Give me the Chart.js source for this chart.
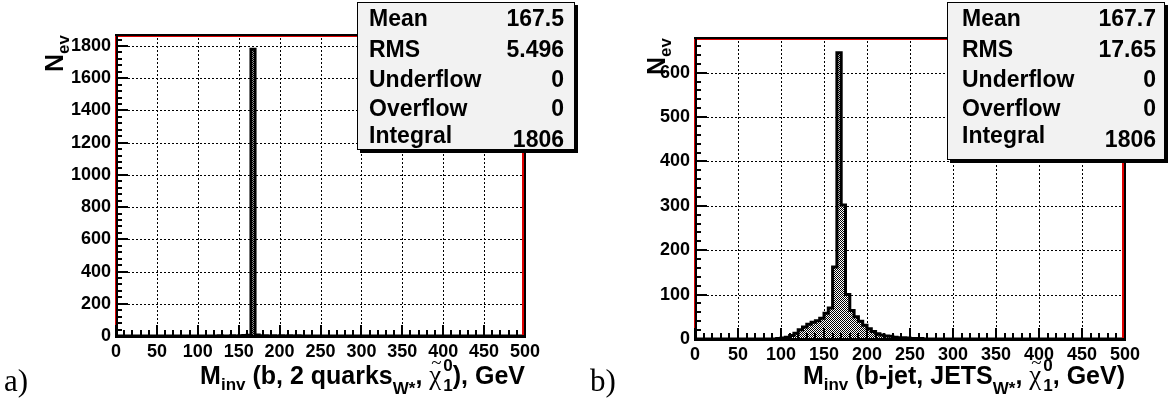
<!DOCTYPE html>
<html><head><meta charset="utf-8">
<script src="https://cdn.jsdelivr.net/npm/chart.js@4.4.0/dist/chart.umd.min.js"></script>
<style>
html,body{margin:0;padding:0;background:#fff;width:1172px;height:405px;overflow:hidden}
canvas{position:absolute;top:0}
#ca{left:0}
#cb{left:586px}
</style></head><body>
<canvas id="ca" width="586" height="405"></canvas>
<canvas id="cb" width="586" height="405"></canvas>
<script>
// ---------------- data ----------------
const binWidthGeV = 5;            // histogram bin width
const xMin = 0, xMax = 500;       // M_inv range, GeV
const xTickStep = 50, xMinorStep = 10;

// a) M_inv(b, 2 quarks_W*, chi_1^0): 100 bins of 5 GeV
const countsA = [
  0,0,0,0,0,0,0,0,0,0,
  0,0,0,0,0,0,0,0,0,0,
  0,0,0,0,0,1,0,0,2,0,
  2,3,5,1780,6,2,1,0,1,0,
  1,0,1,0,1,0,0,0,0,0,
  0,0,0,0,0,0,0,0,0,0,
  0,0,0,0,0,0,0,0,0,0,
  0,0,0,0,0,0,0,0,0,0,
  0,0,0,0,0,0,0,0,0,0,
  0,0,0,0,0,0,0,0,0,0
];
// b) M_inv(b-jet, JETS_W*, chi_1^0): 100 bins of 5 GeV
const countsB = [
  0,0,0,0,0,0,0,0,0,0,
  0,0,0,0,0,0,0,0,0,1,
  2,4,8,13,21,27,33,38,41,47,
  58,70,162,645,302,100,64,50,40,31,
  23,17,12,9,7,6,4,3,3,2,
  1,1,1,0,0,0,0,0,0,0,
  0,0,0,0,0,0,0,0,0,0,
  0,0,0,0,0,0,0,0,0,0,
  0,0,0,0,0,0,0,0,0,0,
  0,0,0,0,0,0,0,0,0,0
];
const yMaxA = 1868, yStepA = 200, yMinorA = 40;
const yMaxB = 678,  yStepB = 100, yMinorB = 20;

const statLabels = ['Mean', 'RMS', 'Underflow', 'Overflow', 'Integral'];
const statsA = ['167.5', '5.496', '0', '0', '1806'];
const statsB = ['167.7', '17.65', '0', '0', '1806'];

// ---------------- drawing helpers ----------------
const SANS = '"Liberation Sans", Arial, sans-serif';
const SERIF = '"Liberation Serif", "DejaVu Serif", serif';
const BT = 'bold 25px ' + SANS;
const BS = 'bold 17px ' + SANS;

function segWidth(ctx, s) {
  if (s.chi) {
    ctx.font = s.f; const w1 = ctx.measureText('χ').width;
    ctx.font = s.sf; const w2 = Math.max(ctx.measureText(s.sup).width, ctx.measureText(s.sub).width);
    return w1 + 2 + w2;
  }
  ctx.font = s.f; return ctx.measureText(s.t).width;
}
function drawRich(ctx, segs, x, y) {
  ctx.textBaseline = 'alphabetic'; ctx.textAlign = 'left'; ctx.fillStyle = '#000';
  segs.forEach(s => {
    if (s.chi) {
      ctx.font = s.f; const w1 = ctx.measureText('χ').width;
      ctx.fillText('χ', x, y);
      ctx.font = s.tf; const tw = ctx.measureText('~').width;
      ctx.fillText('~', x + (w1 - tw) / 2 + 1, y - 15);
      ctx.font = s.sf;
      ctx.fillText(s.sup, x + w1 + 2, y - 13);
      ctx.fillText(s.sub, x + w1 + 2, y + 7);
      x += segWidth(ctx, s);
    } else {
      ctx.font = s.f; ctx.fillText(s.t, x, y + (s.dy || 0));
      x += ctx.measureText(s.t).width;
    }
  });
}
function richTotal(ctx, segs) { return segs.reduce((a, s) => a + segWidth(ctx, s), 0); }

const CHI = { chi: true, f: '27px ' + SERIF, tf: '19px ' + SERIF, sf: BS, sup: '0', sub: '1' };
const titleA = [
  { t: 'M', f: BT }, { t: 'inv', f: BS, dy: 6 }, { t: ' (b, 2 quarks', f: BT },
  { t: 'W*', f: BS, dy: 10 }, { t: ', ', f: BT }, CHI, { t: '), GeV', f: BT }
];
const titleB = [
  { t: 'M', f: BT }, { t: 'inv', f: BS, dy: 6 }, { t: ' (b-jet, JETS', f: BT },
  { t: 'W*', f: BS, dy: 10 }, { t: ', ', f: BT }, CHI, { t: ', GeV)', f: BT }
];
const yTitle = [{ t: 'N', f: BT }, { t: 'ev', f: BS, dy: 6 }];

function makePattern(ctx) {
  const c = document.createElement('canvas'); c.width = 2; c.height = 2;
  const g = c.getContext('2d');
  g.fillStyle = '#fff'; g.fillRect(0, 0, 2, 2);
  g.fillStyle = '#000'; g.fillRect(0, 0, 1, 1); g.fillRect(1, 1, 1, 1);
  return ctx.createPattern(c, 'repeat');
}

function rootPlugin(cfg) {
  return {
    id: 'root_' + cfg.id,
    beforeDatasetsDraw(chart) {
      const { ctx, chartArea: a, scales: { x, y } } = chart;
      ctx.save();
      ctx.strokeStyle = '#000'; ctx.lineWidth = 1; ctx.setLineDash([2, 2]);
      x.ticks.forEach(t => {
        const px = Math.round(x.getPixelForValue(t.value)) + 0.5;
        ctx.beginPath(); ctx.moveTo(px, a.bottom); ctx.lineTo(px, a.top); ctx.stroke();
      });
      y.ticks.forEach(t => {
        const py = Math.round(y.getPixelForValue(t.value)) + 0.5;
        ctx.beginPath(); ctx.moveTo(a.left, py); ctx.lineTo(a.right, py); ctx.stroke();
      });
      ctx.restore();
    },
    afterDatasetsDraw(chart) {
      const { ctx, chartArea: a, scales: { x, y } } = chart;
      const L = Math.round(a.left), R = Math.round(a.right), T = Math.round(a.top), B = Math.round(a.bottom);
      ctx.save();
      // black frame
      ctx.fillStyle = '#000';
      ctx.fillRect(L - 1, T - 1, R - L + 2, 2);   // top
      ctx.fillRect(R - 1, T - 1, 2, B - T + 2);   // right
      ctx.fillRect(L, T - 1, 2, B - T + 2);       // left axis
      ctx.fillRect(L - 1, B - 1, R - L + 2, 3);   // bottom axis
      // red frame line
      ctx.fillStyle = '#e00000';
      ctx.fillRect(L - 1, T + 1, 1, B - T - 2);   // left (outside)
      ctx.fillRect(R - 3, T + 1, 2, B - T - 2);   // right (inside)
      ctx.fillRect(L + 2, T + 1, R - L - 4, 1);   // top (inside)
      // ticks
      ctx.fillStyle = '#000';
      for (let v = xMin; v <= xMax; v += xMinorStep) {
        const px = Math.round(x.getPixelForValue(v));
        const len = (v % xTickStep === 0) ? 11 : 6;
        ctx.fillRect(px - 1, B - len, 2, len);
      }
      for (let v = 0; v <= cfg.yMax; v += cfg.yMinor) {
        const py = Math.round(y.getPixelForValue(v));
        const len = (v % cfg.yStep === 0) ? 12 : 6;
        ctx.fillRect(L, py - 1, len, 2);
      }
      ctx.restore();
    },
    afterDraw(chart) {
      const { ctx, chartArea: a } = chart;
      ctx.save();
      // stats box
      const b = cfg.box, w = b.x1 - b.x0, h = b.y1 - b.y0;
      ctx.fillStyle = '#000'; ctx.fillRect(b.x0 + 3, b.y0 + 3, w, h);
      ctx.fillStyle = '#f2f2f2'; ctx.fillRect(b.x0, b.y0, w, h);
      ctx.strokeStyle = '#000'; ctx.lineWidth = 1; ctx.strokeRect(b.x0 + 0.5, b.y0 + 0.5, w - 1, h - 1);
      ctx.font = 'bold 23px ' + SANS; ctx.fillStyle = '#000'; ctx.textBaseline = 'alphabetic';
      const rows = [26, 57, 87, 116, 143];
      statLabels.forEach((lab, i) => {
        ctx.textAlign = 'left'; ctx.fillText(lab, b.x0 + cfg.padL, rows[i]);
        ctx.textAlign = 'right'; ctx.fillText(cfg.stats[i], b.x1 - cfg.padR, rows[i] + (i === 4 ? 4 : 0));
      });
      // x title (right aligned to axis end)
      const tw = richTotal(ctx, cfg.title);
      drawRich(ctx, cfg.title, a.right - tw, 384);
      // y title, rotated, right aligned to axis top
      const yw = richTotal(ctx, yTitle);
      ctx.translate(cfg.yTitleX, a.top);
      ctx.rotate(-Math.PI / 2);
      drawRich(ctx, yTitle, -yw, 0);
      ctx.setTransform(1, 0, 0, 1, 0, 0);
      // panel label
      ctx.font = '31px ' + SERIF; ctx.textAlign = 'left'; ctx.fillStyle = '#000';
      ctx.fillText(cfg.panel, 4, 391);
      ctx.restore();
    }
  };
}

function buildChart(cfg) {
  const canvas = document.getElementById(cfg.id);
  const ctx = canvas.getContext('2d');
  const pts = cfg.counts.map((v, i) => ({ x: xMin + i * binWidthGeV, y: v }));
  pts.push({ x: xMax, y: 0 });
  const ar = cfg.area, YW = 60, XH = 40;
  const tickFont = { family: SANS, weight: 'bold', size: 18 };
  return new Chart(ctx, {
    type: 'line',
    data: { datasets: [{
      data: pts, stepped: true, fill: 'origin', backgroundColor: makePattern(ctx),
      borderColor: '#000', borderWidth: 3, pointRadius: 0, borderJoinStyle: 'miter', clip: 4
    }] },
    options: {
      responsive: false, animation: false, devicePixelRatio: 1,
      layout: { padding: { left: ar.left - YW, right: 586 - ar.right, top: ar.top, bottom: 405 - ar.bottom - XH } },
      plugins: { legend: { display: false }, tooltip: { enabled: false }, title: { display: false } },
      scales: {
        x: {
          type: 'linear', min: xMin, max: xMax,
          afterFit: s => { s.height = XH; },
          grid: { display: false, drawTicks: false }, border: { display: false },
          ticks: { stepSize: xTickStep, autoSkip: false, maxRotation: 0, padding: 5, color: '#000', font: tickFont,
                   callback: v => String(v) }
        },
        y: {
          type: 'linear', min: 0, max: cfg.yMax,
          afterFit: s => { s.width = YW; },
          grid: { display: false, drawTicks: false }, border: { display: false },
          ticks: { stepSize: cfg.yStep, includeBounds: false, autoSkip: false, padding: 5, color: '#000', font: tickFont,
                   callback: v => String(v) }
        }
      }
    },
    plugins: [rootPlugin(cfg)]
  });
}

buildChart({
  id: 'ca', counts: countsA, yMax: yMaxA, yStep: yStepA, yMinor: yMinorA,
  area: { left: 116, top: 35, right: 525, bottom: 336 },
  box: { x0: 357, y0: 2, x1: 575, y1: 150 }, padL: 12, padR: 11, stats: statsA,
  title: titleA, yTitleX: 63, panel: 'a)'
});
buildChart({
  id: 'cb', counts: countsB, yMax: yMaxB, yStep: yStepB, yMinor: yMinorB,
  area: { left: 109, top: 38, right: 539, bottom: 339 },
  box: { x0: 361, y0: 2, x1: 579, y1: 160 }, padL: 15, padR: 9, stats: statsB,
  title: titleB, yTitleX: 79, panel: 'b)'
});
</script>
</body></html>
